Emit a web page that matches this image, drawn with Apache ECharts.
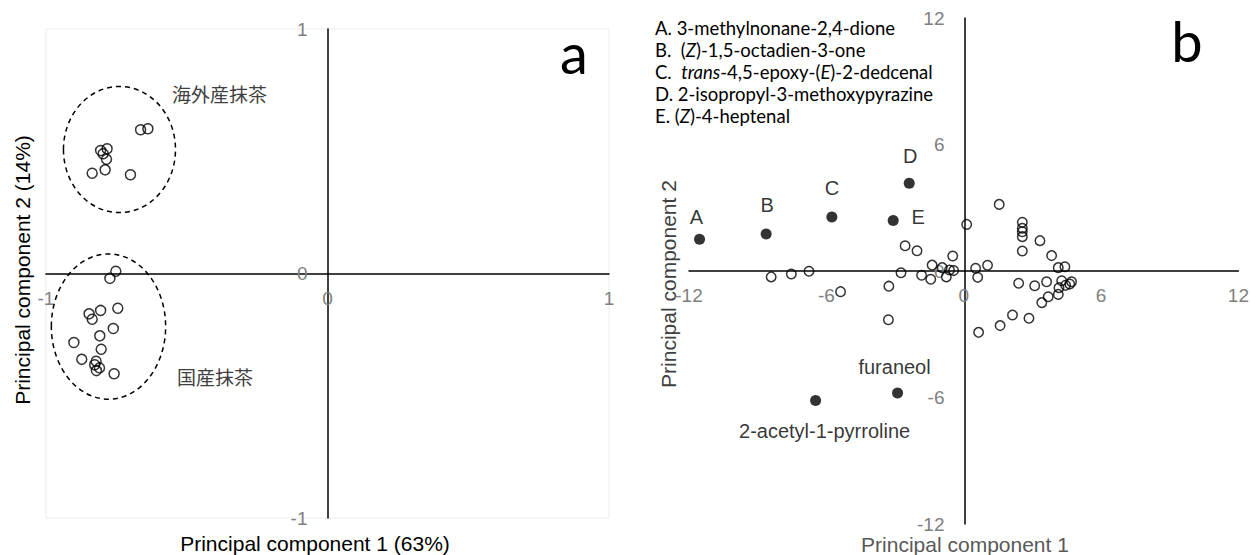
<!DOCTYPE html>
<html>
<head>
<meta charset="utf-8">
<script src="https://cdn.jsdelivr.net/npm/echarts@6/dist/echarts.min.js"></script>
<style>
html,body{margin:0;padding:0;background:#fff;}
#chart{width:1252px;height:555px;}
</style>
</head>
<body>
<div id="chart"></div>
<script>
// ---------- Panel a: matcha samples ----------
const overseasPC1 = [-0.664, -0.638, -0.806, -0.783, -0.797, -0.785, -0.790, -0.836, -0.700];
const overseasPC2 = [0.588, 0.592, 0.503, 0.510, 0.490, 0.467, 0.424, 0.410, 0.404];
const domesticPC1 = [-0.752, -0.773, -0.745, -0.806, -0.847, -0.836, -0.761, -0.809, -0.901, -0.804, -0.873, -0.822, -0.827, -0.810, -0.821, -0.758];
const domesticPC2 = [0.009, -0.020, -0.142, -0.151, -0.165, -0.187, -0.225, -0.255, -0.282, -0.310, -0.351, -0.359, -0.373, -0.386, -0.397, -0.410];
// group ellipses: centre PC1, centre PC2, half-width, half-height
const groupEllipses = [
  [-0.739, 0.507, 0.199, 0.258],
  [-0.778, -0.217, 0.203, 0.297]
];
const groupNames = ['海外産抹茶', '国産抹茶'];
const panelATicks = [-1, 0, 1];

// ---------- Panel b: odorants ----------
const openPC1 = [0.13, -2.56, -2.04, -0.48, -1.38, -0.94, -0.62, -0.44, -0.76, -1.84, -1.44, -2.74, -3.27, -3.29, -5.38, -6.76, -7.53, -8.41,
  0.52, 0.61, 1.04, 1.55, 2.56, 2.56, 2.56, 2.56, 2.56, 3.33, 3.84, 4.13, 4.42, 2.40, 3.10, 3.62, 4.28, 4.71, 4.63, 4.16, 4.13, 3.69, 3.41, 2.13, 2.85, 0.65, 1.59, 4.45];
const openPC2 = [2.21, 1.20, 0.96, 0.71, 0.28, 0.16, 0.05, 0.02, -0.28, -0.20, -0.39, -0.08, -0.72, -2.31, -0.98, -0.01, -0.14, -0.28,
  0.13, -0.30, 0.27, 3.16, 2.31, 2.03, 1.86, 1.63, 0.95, 1.44, 0.73, 0.16, 0.20, -0.58, -0.70, -0.51, -0.46, -0.51, -0.62, -0.79, -1.11, -1.22, -1.50, -2.09, -2.24, -2.91, -2.59, -0.68];
const keyNames = ['A', 'B', 'C', 'D', 'E', 'furaneol', '2-acetyl-1-pyrroline'];
const keyPC1 = [-11.54, -8.63, -5.76, -2.38, -3.08, -2.89, -6.47];
const keyPC2 = [1.51, 1.76, 2.56, 4.16, 2.40, -5.79, -6.14];
const panelBTicks = [-12, -6, 0, 6, 12];
const compoundLegend = [
  'A. 3-methylnonane-2,4-dione',
  'B.  ({i|Z})-1,5-octadien-3-one',
  'C.  {i|trans}-4,5-epoxy-({i|E})-2-dedcenal',
  'D. 2-isopropyl-3-methoxypyrazine',
  'E. ({i|Z})-4-heptenal'
];

// ---------- styling / layout (not data) ----------
const labelOffsets = {
  'A': [-3, -22], 'B': [1, -29], 'C': [0, -29], 'D': [1, -27], 'E': [25, -3],
  'furaneol': [-3, -26], '2-acetyl-1-pyrroline': [9, 31]
};
const SANS = 'Liberation Sans, Arial, sans-serif';
const tickGray = '#808080';
const gridA = { left: 46, top: 29, width: 563, height: 489 };
const gridB = { left: 689, top: 18, width: 551, height: 506 };

function zip(a, b) { return a.map((v, i) => [v, b[i]]); }

// axis drawn through zero of the other axis (labels follow the line)
function valueAxis(gridIndex, ticks, otherTicks, span, isY) {
  const oMin = otherTicks[0], oMax = otherTicks[otherTicks.length - 1];
  const zeroFrac = (0 - oMin) / (oMax - oMin);
  return {
    type: 'value', gridIndex: gridIndex,
    position: isY ? 'left' : 'bottom',
    offset: -zeroFrac * span,
    min: ticks[0], max: ticks[ticks.length - 1],
    interval: ticks[1] - ticks[0],
    axisLine: { show: true, onZero: false, lineStyle: { color: '#000', width: 1.5 } },
    axisTick: { show: false },
    splitLine: { show: false },
    axisLabel: { color: tickGray, fontSize: 19, fontFamily: SANS, margin: isY ? 20 : 15 }
  };
}

const chart = echarts.init(document.getElementById('chart'), null, { renderer: 'svg' });

const openSymbol = {
  symbol: 'circle',
  itemStyle: { color: 'rgba(0,0,0,0)', borderColor: '#000', borderWidth: 1.5 }
};

const legendGraphics = compoundLegend.map((line, i) => ({
  type: 'text', left: 655, top: 18 + i * 22.2,
  style: {
    text: line, fontFamily: 'Lato, sans-serif', fontSize: 18.5, fill: '#000',
    rich: { i: { fontStyle: 'italic', fontFamily: 'Lato, sans-serif', fontSize: 18.5, fill: '#000' } }
  }
}));

chart.setOption({
  animation: false,
  backgroundColor: '#fff',
  grid: [
    Object.assign({ show: true, borderColor: '#ececec', borderWidth: 1, backgroundColor: 'transparent' }, gridA),
    Object.assign({}, gridB)
  ],
  xAxis: [
    valueAxis(0, panelATicks, panelATicks, gridA.height, false),
    valueAxis(1, panelBTicks, panelBTicks, gridB.height, false)
  ],
  yAxis: [
    valueAxis(0, panelATicks, panelATicks, gridA.width, true),
    valueAxis(1, panelBTicks, panelBTicks, gridB.width, true)
  ],
  series: [
    {
      type: 'custom', xAxisIndex: 0, yAxisIndex: 0, silent: true, z: 1,
      data: groupEllipses,
      encode: { x: 0, y: 1 },
      renderItem: function (params, api) {
        const c = api.coord([api.value(0), api.value(1)]);
        const s = api.size([api.value(2), api.value(3)]);
        return {
          type: 'ellipse',
          shape: { cx: c[0], cy: c[1], rx: s[0], ry: s[1] },
          style: { fill: 'none', stroke: '#000', lineWidth: 1.5, lineDash: [5, 4] }
        };
      }
    },
    Object.assign({ type: 'scatter', name: 'overseas', xAxisIndex: 0, yAxisIndex: 0, symbolSize: 10, z: 3,
      data: zip(overseasPC1, overseasPC2) }, openSymbol),
    Object.assign({ type: 'scatter', name: 'domestic', xAxisIndex: 0, yAxisIndex: 0, symbolSize: 10, z: 3,
      data: zip(domesticPC1, domesticPC2) }, openSymbol),
    Object.assign({ type: 'scatter', name: 'odorants', xAxisIndex: 1, yAxisIndex: 1, symbolSize: 9.5, z: 3,
      data: zip(openPC1, openPC2) }, openSymbol),
    {
      type: 'scatter', name: 'key', xAxisIndex: 1, yAxisIndex: 1, symbolSize: 11, z: 4,
      itemStyle: { color: '#000' },
      data: keyNames.map((n, i) => ({
        name: n, value: [keyPC1[i], keyPC2[i]],
        label: { show: true, position: 'inside', offset: labelOffsets[n], formatter: n,
          color: '#000', fontSize: 20, fontFamily: SANS }
      }))
    }
  ],
  graphic: [
    // panel a texts
    { type: 'text', left: 172, top: 84, style: { text: groupNames[0], fontFamily: 'Noto Sans CJK JP', fontSize: 19, fill: '#404040' } },
    { type: 'text', left: 177, top: 367, style: { text: groupNames[1], fontFamily: 'Noto Sans CJK JP', fontSize: 19, fill: '#404040' } },
    { type: 'text', x: 315, y: 543, style: { text: 'Principal component 1 (63%)', fontFamily: SANS, fontSize: 21, fill: '#000', align: 'center', verticalAlign: 'middle' } },
    { type: 'text', x: 22, y: 270, rotation: Math.PI / 2, style: { text: 'Principal component 2 (14%)', fontFamily: SANS, fontSize: 21, fill: '#000', align: 'center', verticalAlign: 'middle' } },
    { type: 'text', x: 574, y: 52, style: { text: 'a', fontFamily: 'Lato, sans-serif', fontSize: 56, fill: '#000', align: 'center', verticalAlign: 'middle' } },
    // panel b texts
    { type: 'text', x: 965, y: 544, style: { text: 'Principal component 1', fontFamily: SANS, fontSize: 21, fill: '#595959', align: 'center', verticalAlign: 'middle' } },
    { type: 'text', x: 668, y: 284, rotation: Math.PI / 2, style: { text: 'Principal component 2', fontFamily: SANS, fontSize: 21, fill: '#404040', align: 'center', verticalAlign: 'middle' } },
    { type: 'text', x: 1187, y: 40, style: { text: 'b', fontFamily: 'Lato, sans-serif', fontSize: 56, fill: '#000', align: 'center', verticalAlign: 'middle' } }
  ].concat(legendGraphics)
});
</script>
</body>
</html>
